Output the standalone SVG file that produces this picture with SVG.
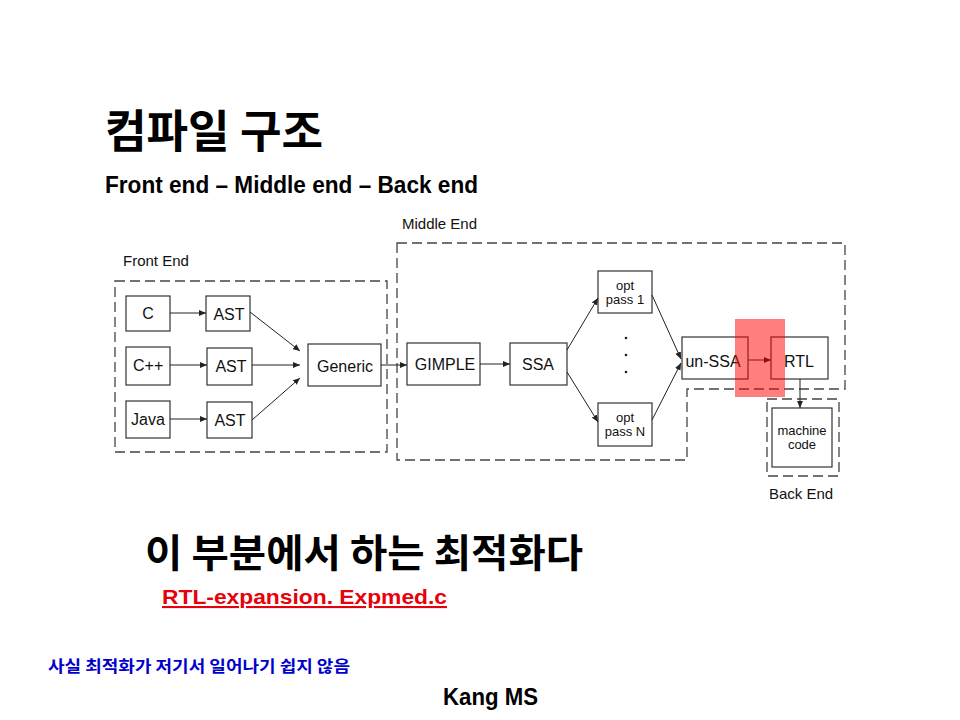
<svg xmlns="http://www.w3.org/2000/svg" width="960" height="720" viewBox="0 0 960 720">
<style>
.box{fill:#fff;stroke:#333;stroke-width:1.2}
.dash{fill:none;stroke:#444;stroke-width:1.3;stroke-dasharray:10 5}
.lbl{font-family:"Liberation Sans",Arial,sans-serif;font-size:16px;fill:#111}
.sm{font-family:"Liberation Sans",Arial,sans-serif;font-size:13px;fill:#111}
.grp{font-family:"Liberation Sans",Arial,sans-serif;font-size:15px;fill:#111}
.edge{stroke:#222;stroke-width:1;fill:none;marker-end:url(#ah)}
.kr{font-family:"Noto Sans CJK KR","Liberation Sans",sans-serif;font-weight:bold}
</style>
<defs>
<marker id="ah" markerUnits="userSpaceOnUse" markerWidth="8" markerHeight="6" refX="7" refY="3" orient="auto">
<path d="M0,0 L7,3 L0,6 z" fill="#222"/>
</marker>
</defs>
<rect width="960" height="720" fill="#fff"/>

<text class="kr" x="105" y="148" font-size="45" fill="#000" textLength="218" lengthAdjust="spacingAndGlyphs">컴파일 구조</text>
<text x="105" y="193" font-family="Liberation Sans,Arial,sans-serif" font-weight="bold" font-size="23" fill="#000" textLength="373" lengthAdjust="spacingAndGlyphs">Front end – Middle end – Back end</text>

<g id="frontend-group">
<rect class="dash" x="115" y="281" width="272" height="171"/>
<text class="grp" x="123" y="266">Front End</text>
</g>
<g id="middleend-group">
<path class="dash" d="M397,243 L845,243 L845,389 L687,389 L687,460 L397,460 Z"/>
<text class="grp" x="402" y="229">Middle End</text>
</g>
<g id="backend-group">
<rect class="dash" x="767" y="399" width="72" height="77"/>
<text class="grp" x="769" y="499">Back End</text>
</g>

<g id="c"><rect class="box" x="126" y="296" width="44" height="35"/><text class="lbl" x="148" y="319" text-anchor="middle">C</text></g>
<g id="cpp"><rect class="box" x="126" y="347" width="44" height="38"/><text class="lbl" x="133" y="371">C++</text></g>
<g id="java"><rect class="box" x="126" y="401" width="44" height="37"/><text class="lbl" x="131" y="425">Java</text></g>
<g id="ast1"><rect class="box" x="206" y="296" width="44" height="35"/><text class="lbl" x="229" y="320" text-anchor="middle">AST</text></g>
<g id="ast2"><rect class="box" x="207" y="348" width="45" height="37"/><text class="lbl" x="231" y="372" text-anchor="middle">AST</text></g>
<g id="ast3"><rect class="box" x="207" y="402" width="45" height="36"/><text class="lbl" x="230" y="426" text-anchor="middle">AST</text></g>
<g id="generic"><rect class="box" x="308" y="344" width="73" height="42"/><text class="lbl" x="345" y="372" text-anchor="middle">Generic</text></g>
<g id="gimple"><rect class="box" x="407" y="343" width="73" height="42"/><text class="lbl" x="445" y="370" text-anchor="middle">GIMPLE</text></g>
<g id="ssa"><rect class="box" x="510" y="343" width="57" height="42"/><text class="lbl" x="538" y="370" text-anchor="middle">SSA</text></g>
<g id="opt1"><rect class="box" x="598" y="271" width="54" height="42"/><text class="sm" x="625" y="290" text-anchor="middle">opt</text><text class="sm" x="625" y="304" text-anchor="middle">pass 1</text></g>
<g id="dots"><circle cx="626" cy="338" r="1.3" fill="#222"/><circle cx="626" cy="355" r="1.3" fill="#222"/><circle cx="626" cy="372" r="1.3" fill="#222"/></g>
<g id="optN"><rect class="box" x="598" y="403" width="54" height="43"/><text class="sm" x="625" y="422" text-anchor="middle">opt</text><text class="sm" x="625" y="436" text-anchor="middle">pass N</text></g>
<g id="unssa"><rect class="box" x="682" y="337" width="66" height="42"/><text class="lbl" x="713" y="367" text-anchor="middle">un-SSA</text></g>
<g id="rtl"><rect class="box" x="771" y="337" width="57" height="42"/><text class="lbl" x="799" y="367" text-anchor="middle">RTL</text></g>
<g id="machine"><rect class="box" x="772" y="408" width="60" height="59"/><text class="sm" x="802" y="435" text-anchor="middle">machine</text><text class="sm" x="802" y="449" text-anchor="middle">code</text></g>

<g id="connectors">
<line class="edge" x1="170" y1="313" x2="206" y2="313"/>
<line class="edge" x1="170" y1="365" x2="207" y2="365"/>
<line class="edge" x1="170" y1="419" x2="207" y2="419"/>
<line class="edge" x1="250" y1="312" x2="300" y2="351"/>
<line class="edge" x1="252" y1="365" x2="300" y2="365"/>
<line class="edge" x1="252" y1="420" x2="300" y2="378"/>
<line class="edge" x1="381" y1="365" x2="407" y2="365"/>
<line class="edge" x1="480" y1="364" x2="510" y2="364"/>
<line class="edge" x1="567" y1="350" x2="598" y2="298"/>
<line class="edge" x1="567" y1="372" x2="598" y2="422"/>
<line class="edge" x1="652" y1="295" x2="681" y2="359"/>
<line class="edge" x1="652" y1="420" x2="681" y2="363"/>
<line class="edge" x1="748" y1="360" x2="771" y2="360"/>
<line class="edge" x1="800" y1="379" x2="800" y2="408"/>
</g>

<rect id="highlight" x="735" y="319" width="50" height="78" fill="#ff0000" fill-opacity="0.5"/>

<text class="kr" x="145" y="567" font-size="39" fill="#000" textLength="438" lengthAdjust="spacingAndGlyphs">이 부분에서 하는 최적화다</text>
<text x="162" y="604" font-family="Liberation Sans,Arial,sans-serif" font-weight="bold" font-size="21" fill="#e8000b" text-decoration="underline" textLength="285" lengthAdjust="spacingAndGlyphs">RTL-expansion. Expmed.c</text>
<text class="kr" x="48" y="672" font-size="16" fill="#0000cc" textLength="302" lengthAdjust="spacingAndGlyphs">사실 최적화가 저기서 일어나기 쉽지 않음</text>
<text x="443" y="705" font-family="Liberation Sans,Arial,sans-serif" font-weight="bold" font-size="24" fill="#000" textLength="95" lengthAdjust="spacingAndGlyphs">Kang MS</text>
</svg>
